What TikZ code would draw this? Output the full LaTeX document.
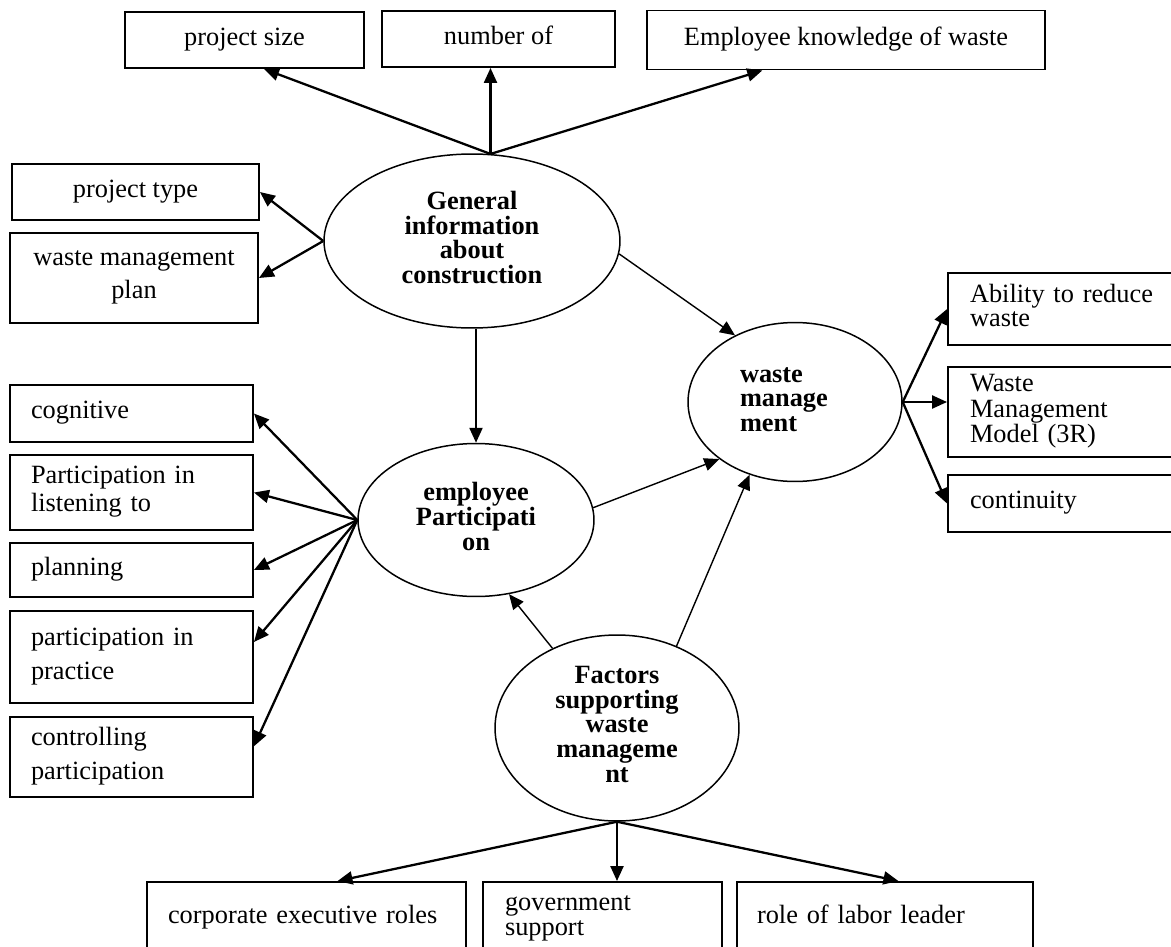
\documentclass[tikz,border=0pt]{standalone}
\usepackage{fontspec}
\setmainfont{Liberation Serif}
\usepackage{tikz}
\usetikzlibrary{shapes.geometric,arrows.meta}

\begin{document}
\begin{tikzpicture}[x=0.02cm,y=-0.02cm,>={Triangle[length=3mm,width=2.6mm]},
  font=\fontsize{15}{14}\selectfont,
  execute at begin node=\strut,execute at end node=\strut,
  box/.style={draw,line width=1.1pt,inner sep=0pt,align=center},
  lbox/.style={draw,line width=1.1pt,inner xsep=0.42cm,inner ysep=0pt,align=left,text width=#1},
  oval/.style={draw,ellipse,line width=0.85pt,inner sep=0pt,align=center,font=\fontsize{15}{14}\selectfont\bfseries},
  arr/.style={->,line width=1.3pt},
  thinarr/.style={->,line width=0.8pt}]
\useasboundingbox (0,0) rectangle (1171,947);
\node[box,minimum width=4.78cm,minimum height=1.12cm] (psize) at (244.5,40) {project size};
\node[box,minimum width=4.66cm,minimum height=1.12cm] (numof) at (498.5,39) {number of};
\node[box,minimum width=7.96cm,minimum height=1.18cm] (empknow) at (846,40) {Employee knowledge of waste};
\node[box,minimum width=4.94cm,minimum height=1.12cm] (ptype) at (135.5,192) {project type};
\node[box,minimum width=4.96cm,minimum height=1.8cm] (wmplan) at (134,278) {waste management\\[0.17cm]plan};
\node[lbox=4.02cm,minimum height=1.14cm] (cog) at (131.5,413.5) {cognitive};
\node[lbox=4.02cm,minimum height=1.5cm] (plisten) at (131.5,492.5) {Participation in\\listening to};
\node[lbox=4.02cm,minimum height=1.08cm] (plan) at (131.5,570) {planning};
\node[lbox=4.02cm,minimum height=1.84cm] (pprac) at (131.5,657) {participation in\\[0.15cm]practice};
\node[lbox=4.02cm,minimum height=1.6cm] (ctrl) at (131.5,757) {controlling\\[0.15cm]participation};
\node[lbox=3.86cm,inner xsep=0.44cm,minimum height=1.44cm] (abil) at (1066.5,309) {Ability to reduce\\waste};
\node[lbox=3.86cm,inner xsep=0.44cm,minimum height=1.8cm] (model) at (1066.5,412) {Waste\\Management\\Model (3R)};
\node[lbox=3.86cm,inner xsep=0.44cm,minimum height=1.14cm] (cont) at (1066.5,503.5) {continuity};
\node[lbox=5.54cm,minimum height=1.44cm] (corp) at (306.5,918) {corporate executive roles};
\node[lbox=3.9cm,inner xsep=0.44cm,minimum height=1.44cm] (gov) at (602.5,918) {government\\support};
\node[lbox=5.12cm,inner xsep=0.4cm,minimum height=1.44cm] (labor) at (885,918) {role of labor leader};
\node[oval,minimum width=5.92cm,minimum height=3.48cm] (gen) at (472,241) {General\\information\\about\\construction};
\node[oval,minimum width=4.72cm,minimum height=3.06cm] (emp) at (476,520) {employee\\Participati\\on};
\node[oval,minimum width=4.28cm,minimum height=3.18cm,align=left,text width=2.2cm] (wm) at (795,402) {waste\\manage\\ment};
\node[oval,minimum width=4.88cm,minimum height=3.72cm] (fac) at (617,728) {Factors\\supporting\\waste\\manageme\\nt};
\draw[arr] (gen.78) -- (psize.-56);
\draw[arr] (gen.78) -- (gen.78 |- numof.south);
\draw[arr] (gen.78) -- (empknow.200);
\draw[arr] (gen.west) -- (ptype.east);
\draw[arr] (gen.west) -- (wmplan.east);
\draw[arr] (emp.north |- gen.south) -- (emp.north);
\draw[thinarr] (gen.-5) -- (wm.132);
\draw[arr] (emp.west) -- (cog.east);
\draw[arr] (emp.west) -- (plisten.east);
\draw[arr] (emp.west) -- (plan.east);
\draw[arr] (emp.west) -- (pprac.7);
\draw[arr] (emp.west) -- (ctrl.5);
\draw[thinarr] (emp.6) -- (wm.217);
\draw[thinarr] (fac.129) -- (emp.-66);
\draw[thinarr] (fac.54) -- (wm.238);
\draw[arr] (wm.east) -- (abil.west);
\draw[arr] (wm.east) -- (wm.east -| model.west);
\draw[arr] (wm.east) -- (cont.west);
\draw[arr] (fac.south) -- (corp.50);
\draw[arr] (fac.south) -- (fac.south |- gov.north);
\draw[arr] (fac.south) -- (labor.70);
\end{tikzpicture}
\end{document}
